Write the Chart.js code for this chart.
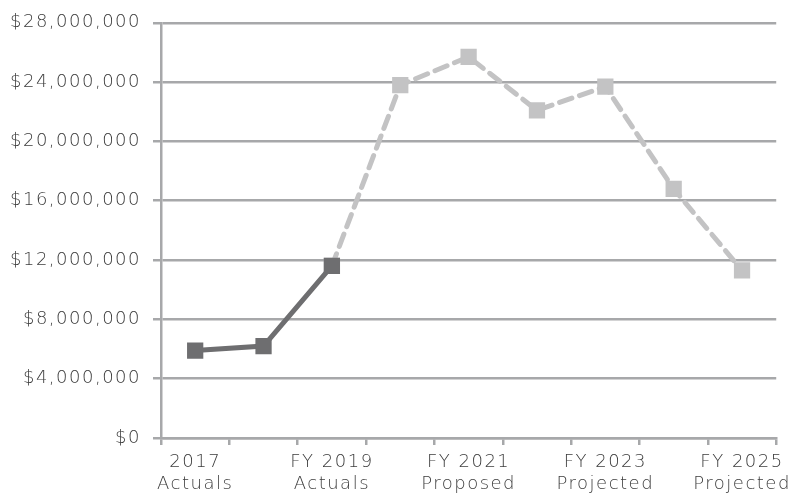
<!DOCTYPE html>
<html>
<head>
<meta charset="utf-8">
<script src="https://cdn.jsdelivr.net/npm/chart.js@4"></script>
<style>
  html, body { margin: 0; padding: 0; background: #ffffff; }
  #wrap { width: 798px; height: 496px; }
</style>
</head>
<body>
<div id="wrap"><canvas id="chart" width="798" height="496"></canvas></div>
<script>
// Fiscal years on the horizontal axis (only every other one is labelled)
const categories = ['2017', 'FY 2018', 'FY 2019', 'FY 2020', 'FY 2021', 'FY 2022', 'FY 2023', 'FY 2024', 'FY 2025'];
const tickLabels = [['2017', 'Actuals'], '', ['FY 2019', 'Actuals'], '', ['FY 2021', 'Proposed'], '', ['FY 2023', 'Projected'], '', ['FY 2025', 'Projected']];

// Actual spending (solid) and proposed / projected spending (dashed)
const actuals   = [5.9e6, 6.2e6, 11.6e6, null, null, null, null, null, null];
const projected = [null, null, 11.6e6, 23.8e6, 25.7e6, 22.1e6, 23.7e6, 16.8e6, 11.3e6];

const yMin = 0, yMax = 28e6, yStep = 4e6;

const fontFamily = '"DejaVu Sans", sans-serif';
const gridColor = '#a7a8aa';
const textColor = '#3c3c3c';

// Wider tracking for all canvas text
const tracking = {
  id: 'tracking',
  beforeUpdate(chart) { chart.ctx.letterSpacing = '1.5px'; },
  beforeDraw(chart) { chart.ctx.letterSpacing = '1.5px'; }
};

new Chart(document.getElementById('chart'), {
  type: 'line',
  plugins: [tracking],
  data: {
    labels: categories,
    datasets: [
      {
        label: 'Projected',
        data: projected,
        borderColor: '#c3c3c4',
        backgroundColor: '#c3c3c4',
        borderWidth: 5,
        borderDash: [13, 8],
        borderCapStyle: 'round',
        pointStyle: 'rect',
        pointRadius: 11.5,
        pointHoverRadius: 11.5,
        pointBorderWidth: 0,
        tension: 0,
        spanGaps: false,
        order: 2
      },
      {
        label: 'Actuals',
        data: actuals,
        borderColor: '#6e6e70',
        backgroundColor: '#6e6e70',
        borderWidth: 5,
        pointStyle: 'rect',
        pointRadius: 11.5,
        pointHoverRadius: 11.5,
        pointBorderWidth: 0,
        tension: 0,
        order: 1
      }
    ]
  },
  options: {
    responsive: false,
    animation: false,
    devicePixelRatio: 1,
    layout: { padding: { left: 0, right: 21, top: 20, bottom: 0 } },
    plugins: {
      legend: { display: false },
      tooltip: { enabled: false }
    },
    scales: {
      x: {
        offset: true,
        grid: {
          offset: true,
          drawOnChartArea: false,
          drawTicks: true,
          tickLength: 7,
          color: gridColor,
          lineWidth: 2.5
        },
        border: { display: true, color: gridColor, width: 2.5 },
        ticks: {
          autoSkip: false,
          maxRotation: 0,
          color: textColor,
          padding: 6,
          font: { family: fontFamily, size: 18, weight: '300', lineHeight: 1.22 },
          callback: (v, i) => tickLabels[i]
        },
        afterFit: s => { s.height = 58; }
      },
      y: {
        min: yMin,
        max: yMax,
        ticks: {
          stepSize: yStep,
          color: textColor,
          padding: 12,
          font: { family: fontFamily, size: 18, weight: '300' },
          callback: v => '$' + v.toLocaleString('en-US')
        },
        grid: {
          color: gridColor,
          lineWidth: 2.5,
          tickLength: 8
        },
        border: { display: true, color: gridColor, width: 2.5 },
        afterFit: s => { s.width = 161; }
      }
    }
  }
});
</script>
</body>
</html>
